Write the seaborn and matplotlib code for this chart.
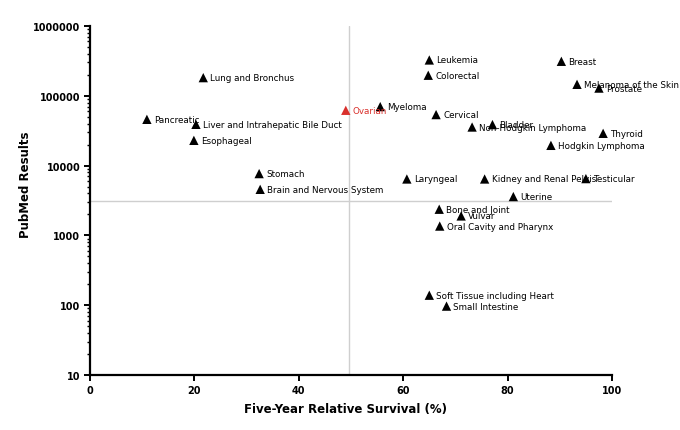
import numpy as np
import pandas as pd
import seaborn as sns
import matplotlib.pyplot as plt
from matplotlib.ticker import FixedLocator, FuncFormatter, LogLocator, NullFormatter

# cancer sites, five-year survival (%) and PubMed hit counts
sites = ['Lung and Bronchus', 'Pancreatic', 'Liver and Intrahepatic Bile Duct', 'Esophageal',
         'Stomach', 'Brain and Nervous System', 'Ovarian', 'Leukemia', 'Colorectal', 'Breast',
         'Melanoma of the Skin', 'Prostate', 'Myeloma', 'Cervical', 'Non-Hodgkin Lymphoma',
         'Bladder', 'Thyroid', 'Hodgkin Lymphoma', 'Laryngeal', 'Kidney and Renal Pelvis',
         'Testicular', 'Uterine', 'Bone and Joint', 'Vulvar', 'Oral Cavity and Pharynx',
         'Soft Tissue including Heart', 'Small Intestine']
survival = [21.7, 10.9, 20.3, 19.9, 32.4, 32.6, 49.0, 65.0, 64.8, 90.3,
            93.3, 97.5, 55.6, 66.3, 73.2, 77.1, 98.3, 88.3, 60.7, 75.6,
            95.0, 81.1, 66.9, 71.1, 67.0, 65.0, 68.3]
pubmed = [182000, 46000, 39000, 23000, 7680, 4570, 62000, 326000, 197000, 312000,
          146000, 129000, 70000, 53800, 35700, 38700, 29000, 19500, 6430, 6430,
          6510, 3600, 2370, 1900, 1360, 139, 97]
highlight = 'Ovarian'
survival_split = 49.7
pubmed_split = 3110

df = pd.DataFrame({'site': sites, 'survival': survival, 'pubmed': pubmed})
df['group'] = np.where(df['site'] == highlight, 'hl', 'other')
colors = {'other': 'black', 'hl': '#d9302c'}

sns.set_style('white')
plt.rcParams['font.family'] = ['DejaVu Sans']
plt.rcParams['text.color'] = 'black'
plt.rcParams['axes.labelcolor'] = 'black'
plt.rcParams['xtick.color'] = 'black'
plt.rcParams['ytick.color'] = 'black'

fig = plt.figure(figsize=(6.8, 4.31), dpi=100)
ax = fig.add_axes([90/680, 55/431, 522/680, 349/431])

ax.axvline(survival_split, color='#cfcfcf', lw=1, zorder=0)
ax.plot([0, 100], [pubmed_split, pubmed_split], color='#cfcfcf', lw=1, zorder=0)

sns.scatterplot(x='survival', y='pubmed', hue='group', data=df, palette=colors,
                marker='^', s=45, edgecolor='none', legend=False, ax=ax, zorder=3)

for name, x, y in zip(sites, survival, pubmed):
    c = colors['hl'] if name == highlight else 'black'
    ax.annotate(name, (x, y), xytext=(5, 0), textcoords='offset points',
                va='center', ha='left', fontsize=6.3, color=c)

ax.set_yscale('log')
ax.set_xlim(0, 100)
ax.set_ylim(10, 1000000)
ax.set_xticks([0, 20, 40, 60, 80, 100])
ax.yaxis.set_major_locator(FixedLocator([10, 100, 1000, 10000, 100000, 1000000]))
ax.yaxis.set_minor_locator(LogLocator(base=10, subs=np.arange(2, 10)))
ax.yaxis.set_minor_formatter(NullFormatter())
ax.yaxis.set_major_formatter(FuncFormatter(lambda v, p: '%d' % v))

for s in ['top', 'right']:
    ax.spines[s].set_visible(False)
for s in ['left', 'bottom']:
    ax.spines[s].set_linewidth(1.6)
    ax.spines[s].set_color('black')

ax.tick_params(axis='both', which='major', direction='out', length=4, width=1.4,
               labelsize=7, pad=3, left=True, bottom=True, colors='black')
ax.tick_params(axis='y', which='minor', direction='out', length=2.5, width=1, left=True)
for lab in ax.get_xticklabels() + ax.get_yticklabels():
    lab.set_fontweight('bold')

ax.set_xlabel('Five-Year Relative Survival (%)', fontsize=8.5, fontweight='bold')
ax.set_ylabel('PubMed Results', fontsize=8.5, fontweight='bold')
ax.xaxis.set_label_coords(0.489, -0.077)
ax.yaxis.set_label_coords(-0.112, 0.549)

fig.savefig('out.png', dpi=100)
